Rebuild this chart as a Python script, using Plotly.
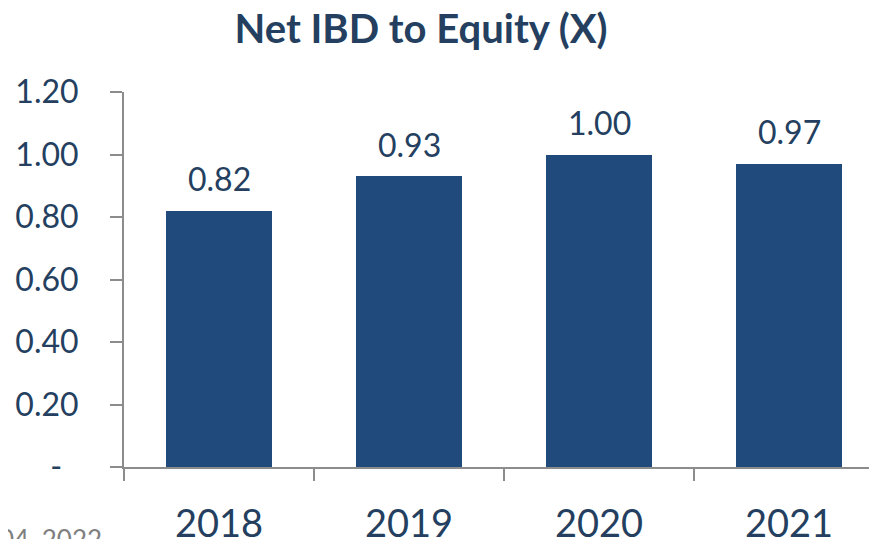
import plotly.graph_objects as go

categories = ["2018", "2019", "2020", "2021"]
values = [0.82, 0.93, 1.00, 0.97]
value_labels = ["0.82", "0.93", "1.00", "0.97"]
ytick_vals = [0, 0.2, 0.4, 0.6, 0.8, 1.0, 1.2]
ytick_text = ["-\u00a0\u00a0", "0.20", "0.40", "0.60", "0.80", "1.00", "1.20"]
footnote = "04, 2022"

text_color = "#243F60"
bar_color = "#214A7C"
axis_color = "#8C8C8C"
font_family = "Lato, 'Open Sans', sans-serif"

L, T, B = 116, 84, 80
plot_w = 877 - L
plot_h = 539 - T - B

fig = go.Figure()
fig.add_trace(go.Bar(
    x=list(range(len(categories))),
    y=values,
    width=0.56,
    marker=dict(color=bar_color, line=dict(width=0)),
    hoverinfo="skip",
))
for i, (v, t) in enumerate(zip(values, value_labels)):
    fig.add_annotation(x=i, y=v, text=t, showarrow=False, yanchor="middle", yshift=32,
                       font=dict(size=32, color=text_color, family=font_family))

fig.update_layout(
    width=877, height=539,
    margin=dict(l=L, r=0, t=T, b=B),
    plot_bgcolor="white", paper_bgcolor="white",
    showlegend=False,
    bargap=0,
    title=dict(text="<b>Net IBD to Equity (X)</b>", x=413/877, xanchor="center",
               y=1 - 21/539, yanchor="middle",
               font=dict(size=40, color=text_color, family=font_family)),
    font=dict(family=font_family, color=text_color),
)
fig.update_xaxes(
    range=[-0.5, -0.5 + plot_w/190],
    tickmode="array", tickvals=[0, 1, 2, 3], ticktext=categories,
    tickfont=dict(size=38, color=text_color),
    showline=True, linecolor=axis_color, linewidth=2,
    showgrid=False, zeroline=False,
    ticks="", ticklabelstandoff=22,
    minor=dict(tickmode="array", tickvals=[-0.5, 0.5, 1.5, 2.5, 3.5], ticks="outside",
               ticklen=12, tickcolor=axis_color, tickwidth=2, showgrid=False),
)
fig.update_yaxes(
    range=[0, 1.2],
    tickmode="array", tickvals=ytick_vals, ticktext=ytick_text,
    tickfont=dict(size=32, color=text_color),
    showline=True, linecolor=axis_color, linewidth=2,
    showgrid=False, zeroline=False,
    ticks="outside", ticklen=12, tickcolor=axis_color, tickwidth=2,
    ticklabelstandoff=25,
)
fig.add_annotation(
    text=footnote, xref="paper", yref="paper",
    x=(-11 - L) / plot_w, xanchor="left", y=-(531 - (539 - B)) / plot_h, yanchor="middle",
    showarrow=False, font=dict(size=26, color="#7F7F7F", family=font_family),
)
fig.write_html("out.html")
